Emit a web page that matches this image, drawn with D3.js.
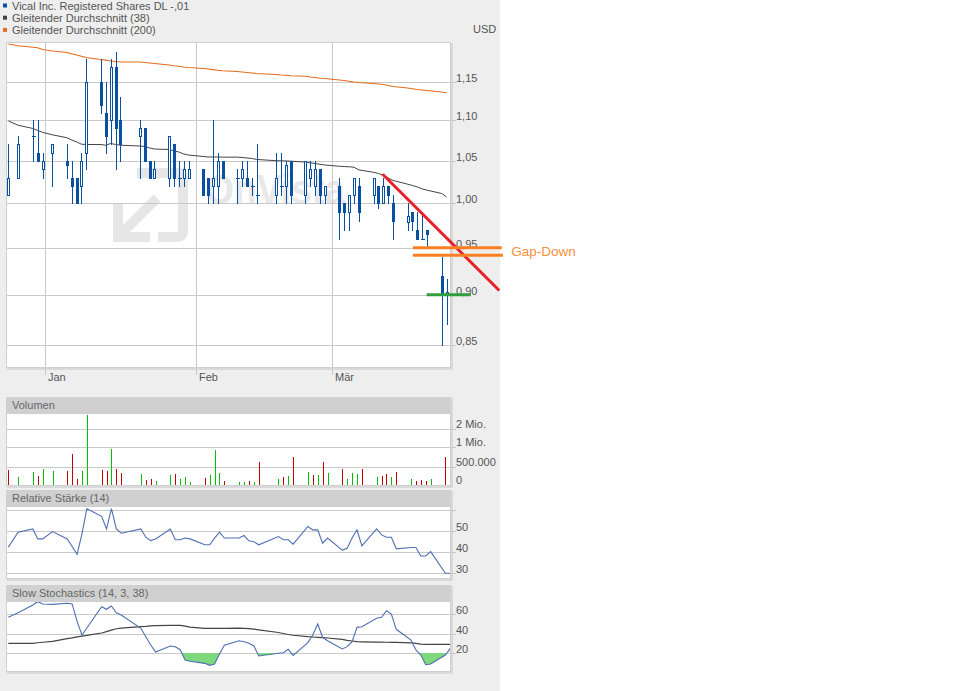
<!DOCTYPE html>
<html><head><meta charset="utf-8">
<script src="https://cdn.jsdelivr.net/npm/d3@7"></script>
<style>
body{margin:0;background:#fff;}
svg{display:block;}
text{font-family:"Liberation Sans",Arial,sans-serif;}
</style>
</head><body>
<svg id="c" width="960" height="691"></svg>
<script>
// ---------------- DATA ----------------
const dates = ["2014-12-24","2014-12-26","2014-12-29","2014-12-30","2014-12-31",
"2015-01-02","2015-01-05","2015-01-06","2015-01-07","2015-01-08","2015-01-09","2015-01-12","2015-01-13","2015-01-14","2015-01-15","2015-01-16","2015-01-20","2015-01-21","2015-01-22","2015-01-23","2015-01-26","2015-01-27","2015-01-28","2015-01-29","2015-01-30",
"2015-02-02","2015-02-03","2015-02-04","2015-02-05","2015-02-06","2015-02-09","2015-02-10","2015-02-11","2015-02-12","2015-02-13","2015-02-17","2015-02-18","2015-02-19","2015-02-20","2015-02-23","2015-02-24","2015-02-25","2015-02-26","2015-02-27",
"2015-03-02","2015-03-03","2015-03-04","2015-03-05","2015-03-06","2015-03-09","2015-03-10","2015-03-11","2015-03-12","2015-03-13","2015-03-16","2015-03-17","2015-03-18","2015-03-19","2015-03-20","2015-03-23","2015-03-24"];

const open = [1.01,1.03,1.08,1.06,1.04,
1.06,1.05,1.03,1.03,1.02,1.06,1.15,1.11,1.10,1.17,1.10,1.08,1.09,1.05,1.03,1.03,1.07,1.03,1.03,1.03,
1.04,1.03,1.02,1.02,1.05,1.03,1.03,1.03,1.02,1.01,1.01,1.02,1.02,1.05,1.01,1.03,1.02,1.04,1.01,
1.02,1.00,0.99,1.01,1.02,1.01,1.02,1.00,1.02,1.00,0.979,0.99,0.97,0.96,0.97,0.92,0.90];
const high = [1.07,1.08,1.10,1.10,1.06,
1.07,1.07,1.05,1.03,1.06,1.18,1.18,1.15,1.18,1.19,1.13,1.10,1.09,1.05,1.05,1.08,1.07,1.05,1.05,1.05,
1.04,1.03,1.10,1.06,1.05,1.04,1.05,1.05,1.03,1.07,1.06,1.06,1.05,1.05,1.05,1.05,1.05,1.04,1.02,
1.03,1.00,1.01,1.03,1.03,1.03,1.02,1.03,1.02,1.01,1.00,0.99,0.99,0.99,0.97,0.94,0.917];
const low = [1.01,1.03,1.05,1.05,1.03,
1.02,1.03,1.00,1.00,1.00,1.04,1.11,1.06,1.07,1.04,1.05,1.03,1.05,1.03,1.03,1.02,1.02,1.02,1.02,1.03,
1.01,1.00,1.00,1.00,1.03,1.00,1.02,1.02,1.01,1.00,1.00,1.01,1.00,1.00,1.00,1.02,1.01,1.00,1.00,
0.96,0.97,0.97,1.00,0.98,1.00,0.995,1.00,1.00,0.96,0.97,0.97,0.96,0.96,0.951,0.85,0.87];
const close = [1.03,1.07,1.08,1.05,1.05,
1.07,1.045,1.02,1.00,1.05,1.15,1.12,1.08,1.17,1.09,1.07,1.09,1.05,1.03,1.04,1.08,1.03,1.03,1.04,1.04,
1.01,1.01,1.03,1.05,1.03,1.03,1.04,1.02,1.02,1.01,1.03,1.02,1.045,1.01,1.05,1.04,1.04,1.01,1.02,
0.99,0.99,1.01,1.03,0.99,1.03,1.00,1.02,1.01,0.98,0.986,0.98,0.96,0.96,0.965,0.90,0.903];

const ma38 = [1.0993,1.0939,1.0899,1.0874,1.0850,
1.0820,1.0783,1.0755,1.0731,1.0703,1.0700,1.0699,1.0690,1.0712,1.0700,1.0691,1.0681,1.0675,1.0657,1.0644,1.0638,1.0622,1.0608,1.0583,1.0571,
1.0553,1.0547,1.0547,1.0547,1.0545,1.0545,1.0541,1.0535,1.0529,1.0517,1.0502,1.0501,1.0499,1.0496,1.0486,1.0477,1.0468,1.0459,1.0450,
1.0435,1.0431,1.0429,1.0423,1.0391,1.0363,1.0349,1.0327,1.0295,1.0266,1.0222,1.0207,1.0189,1.0166,1.0152,1.0113,1.0073];
const ma200 = [1.2011,1.1987,1.1966,1.1959,1.1936,
1.1915,1.1895,1.1877,1.1860,1.1844,1.1826,1.1799,1.1790,1.1779,1.1772,1.1765,1.1765,1.1758,1.1752,1.1745,1.1725,1.1715,1.1707,1.1698,1.1691,
1.1678,1.1671,1.1662,1.1653,1.1647,1.1637,1.1631,1.1624,1.1617,1.1611,1.1597,1.1591,1.1587,1.1581,1.1573,1.1564,1.1557,1.1548,1.1543,
1.1524,1.1518,1.1507,1.1498,1.1491,1.1478,1.1471,1.1465,1.1451,1.1438,1.1419,1.1409,1.1399,1.1392,1.1386,1.1366,1.1357];

const volume = [413e3,229e3,360e3,255e3,440e3,
387e3,387e3,827e3,176e3,387e3,3590e3,413e3,387e3,956e3,440e3,334e3,308e3,150e3,176e3,124e3,282e3,308e3,176e3,229e3,97e3,
202e3,282e3,930e3,334e3,124e3,97e3,105e3,124e3,97e3,629e3,184e3,229e3,263e3,750e3,360e3,282e3,282e3,618e3,334e3,
440e3,176e3,334e3,308e3,440e3,229e3,255e3,308e3,229e3,360e3,176e3,124e3,150e3,124e3,176e3,750e3,282e3];
const volDir = ("duudu"+"uddduudduddudduuduuu"+"duuuduududududududu"+"duuududdududddudu").split("");

const rsi = [42.4,49.5,51,46.3,46.3,
49.8,46.3,42.7,39.0,48.7,60.6,57,51,60.6,51,49,51,47.1,45.5,46.3,51,45.9,45.9,46.7,46.3,
43.5,43.5,46.7,49.5,46.7,46.7,47.9,45.4,45.0,43.5,47.4,45.9,45.9,43.8,52.2,50.6,50.6,44.3,46.7,
41.0,41.9,46.7,50.6,43,51.1,48.2,47.1,47.1,41.6,42.2,42.2,38.2,38.2,40.3,30,30];

const stochK = [56.6,61.3,69.2,72.6,70.3,
69.9,71,70.3,52.5,38.5,45.6,67.5,64.8,68.2,61.3,59,45.3,36.7,28.2,21,27.2,26.5,23.4,12.8,11.5,
9.4,7.3,8.7,19,27.9,32.6,31.6,29.9,27.2,16.9,19.7,20.3,23.8,17.6,30.6,38.5,49.7,36.1,32.6,
24.1,26.5,31.6,46.3,47,55.6,56.6,63.4,60,44.3,33.3,23.1,17.9,8.0,8.7,17.9,24.8];
const stochD = [29.9,29.9,29.9,30.5,31,
32,34.7,35.5,36.5,37.4,38,40.5,42,43.5,44.9,45.5,47,47.3,47.8,48.1,48.4,48.4,48.4,47.5,46.6,
45.3,45.3,45.3,45.3,45.3,45.5,45.3,45,44.5,43.8,41,40,39,38.2,36.7,36.4,36.1,35.8,35.4,
34,33,32.3,31.6,31.5,31.2,31.1,31,30.9,30.8,30.3,29.8,29.1,28.9,28.9,28.9,28.9];

const priceTicks = [0.85,0.90,0.95,1.00,1.05,1.10,1.15];
const volTicks = [0,5e5,1e6,2e6];
const volTickLabels = ["0","500.000","1 Mio.","2 Mio."];
const rsiGrid = [30,40,50,60];
const rsiLabels = [30,40,50];
const stochGrid = [20,40,60];
const monthTicks = ["2015-01-01","2015-02-01","2015-03-01"];
const monthLabels = ["Jan","Feb","Mär"];
const legendLabels = ["Vical Inc. Registered Shares DL -,01","Gleitender Durchschnitt (38)","Gleitender Durchschnitt (200)"];
const legendColors = ["#0a50a0","#444444","#e46c1c"];
const currency = "USD";
const panelTitles = ["Volumen","Relative Stärke (14)","Slow Stochastics (14, 3, 38)"];

// annotations drawn by the user on the chart (date, price)
const trendLine = [["2015-03-11 09:00",1.034],["2015-04-04 08:00",0.9045]];
const gapLines = [[["2015-03-17 14:00",0.95],["2015-04-04 20:00",0.95]],
                  [["2015-03-17 14:00",0.942],["2015-04-05 02:00",0.942]]];
const gapLabel = "Gap-Down";
const supportLine = [["2015-03-20 10:00",0.90],["2015-03-29 12:00",0.90]];

// ---------------- DRAW ----------------
const parseDay = d3.timeParse("%Y-%m-%d");
const parseTime = d3.timeParse("%Y-%m-%d %H:%M");
const days = dates.map(s => d3.timeHour.offset(parseDay(s), 12));
const px = v => Math.round(v) + 0.5;

const svg = d3.select("#c");
svg.append("rect").attr("width",500).attr("height",691).attr("fill","#eeeeee");

const L = 6, R = 451;
const gridC = "#c9c9c9", txtC = "#555";
const blue = "#0a50a0";

function panelBox(top, bottom, title){
  svg.append("rect").attr("x",L+1).attr("y",top+1).attr("width",R-L+1).attr("height",bottom-top+1).attr("fill","#d9d9d9");
  svg.append("rect").attr("x",L).attr("y",top).attr("width",R-L).attr("height",bottom-top).attr("fill","#fff");
  if(title){
    svg.append("rect").attr("x",L).attr("y",top).attr("width",R-L).attr("height",16).attr("fill","#d0d0d0");
    svg.append("text").attr("x",12).attr("y",top+12).attr("font-size",11).attr("fill","#666").text(title);
  }
}
function border(top,bottom){
  svg.append("rect").attr("x",L+0.5).attr("y",top+0.5).attr("width",R-L-1).attr("height",bottom-top-1)
    .attr("fill","none").attr("stroke","#cfcfcf").attr("shape-rendering","crispEdges");
}

// legend
legendLabels.forEach((t,i)=>{
  svg.append("rect").attr("x",3).attr("y",3.5+i*12.2).attr("width",4).attr("height",4).attr("fill",legendColors[i]);
  svg.append("text").attr("x",12).attr("y",10+i*12.1).attr("font-size",11).attr("fill",txtC).text(t);
});
svg.append("text").attr("x",473).attr("y",33).attr("font-size",11).attr("fill",txtC).text(currency);

// main panel
const T = 42, B = 368;
panelBox(T,B,null);
const x = d3.scaleTime().domain([parseTime("2014-12-24 00:00"), parseTime("2015-03-25 10:00")]).range([L,R]);
const y = d3.scaleLog().domain([0.85,1.15]).range([344.5,81.8]);

// watermark
const wm = svg.append("g").attr("fill","none").attr("stroke","#e6e6e6").attr("stroke-width",10);
wm.append("path").attr("d","M137 173 H177 Q183 173 183 179 V231 Q183 237 177 237 H158");
wm.append("path").attr("d","M118 204 V237 H150");
wm.append("path").attr("d","M123 232 L157 198");
svg.append("text").attr("x",205).attr("y",204).attr("font-size",42).attr("font-weight","bold")
  .attr("fill","#e8e8e8").attr("textLength",140).attr("lengthAdjust","spacingAndGlyphs").text("OnVista");

// grid
priceTicks.forEach(t=>{
  const gy = px(y(t));
  svg.append("line").attr("x1",L).attr("x2",R+5).attr("y1",gy).attr("y2",gy).attr("stroke",gridC).attr("shape-rendering","crispEdges");
  svg.append("text").attr("x",456).attr("y",gy-0.5).attr("font-size",11).attr("fill",txtC).text(d3.format(".2f")(t).replace(".",","));
});
monthTicks.forEach((m,i)=>{
  const gx = px(x(parseDay(m)));
  svg.append("line").attr("x1",gx).attr("x2",gx).attr("y1",T).attr("y2",B+7).attr("stroke",gridC).attr("shape-rendering","crispEdges");
  svg.append("text").attr("x",gx+2.5).attr("y",381).attr("font-size",11).attr("fill",txtC).text(monthLabels[i]);
});
border(T,B);

// moving averages
const maLine = arr => d3.line().x((d,i)=>x(days[i])).y(d=>y(d))(arr);
svg.append("path").attr("d",maLine(ma200)).attr("fill","none").attr("stroke","#e46c1c").attr("stroke-width",1.1);
svg.append("path").attr("d",maLine(ma38)).attr("fill","none").attr("stroke","#444").attr("stroke-width",1);

// candles
const cg = svg.append("g").attr("shape-rendering","crispEdges");
days.forEach((d,i)=>{
  const cx = px(x(d));
  cg.append("line").attr("x1",cx).attr("x2",cx).attr("y1",Math.round(y(high[i]))).attr("y2",Math.round(y(low[i]))+1).attr("stroke",blue);
  const o = open[i], c = close[i];
  if (c > o){
    const yt = px(y(c)), yb = px(y(o));
    cg.append("rect").attr("x",cx-1).attr("y",yt).attr("width",2).attr("height",Math.max(1,yb-yt)).attr("fill","#fff").attr("stroke",blue);
  } else if (c < o){
    const yt = Math.round(y(o)), yb = Math.round(y(c));
    cg.append("rect").attr("x",cx-1.5).attr("y",yt).attr("width",3).attr("height",Math.max(1,yb-yt+1)).attr("fill",blue);
  } else {
    const yy = px(y(o));
    cg.append("line").attr("x1",cx-2).attr("x2",cx+2).attr("y1",yy).attr("y2",yy).attr("stroke",blue);
  }
});

// annotations
const pt = p => [x(parseTime(p[0])), y(p[1])];
svg.append("line").attr("x1",pt(trendLine[0])[0]).attr("y1",pt(trendLine[0])[1]).attr("x2",pt(trendLine[1])[0]).attr("y2",pt(trendLine[1])[1])
  .attr("stroke","#e8202a").attr("stroke-width",3);
gapLines.forEach(g=>{
  svg.append("line").attr("x1",pt(g[0])[0]).attr("y1",pt(g[0])[1]).attr("x2",pt(g[1])[0]).attr("y2",pt(g[1])[1])
    .attr("stroke","#fb7f22").attr("stroke-width",3);
});
svg.append("line").attr("x1",pt(supportLine[0])[0]).attr("y1",pt(supportLine[0])[1]).attr("x2",pt(supportLine[1])[0]).attr("y2",pt(supportLine[1])[1])
  .attr("stroke","#2e9e3e").attr("stroke-width",3);
const gl0 = pt(gapLines[0][1]), gl1 = pt(gapLines[1][1]);
svg.append("text").attr("x",gl0[0]+9.5).attr("y",(gl0[1]+gl1[1])/2+4.5).attr("font-size",13.5).attr("fill","#f7903a").text(gapLabel);

// lower panels x
const x2 = d3.scaleTime().domain([days[0], days[days.length-1]]).range([8.3,450.3]);

// volume
const vT = 397, vB = 486;
panelBox(vT, vB, panelTitles[0]);
const yv = d3.scaleLinear().domain([0,5e5,1e6,2e6,4e6]).range([486,466.7,447.3,429.3,411.3]);
volTicks.forEach((t,i)=>{
  const gy = px(yv(t));
  if (t>0) svg.append("line").attr("x1",L).attr("x2",R+5).attr("y1",gy).attr("y2",gy).attr("stroke",gridC).attr("shape-rendering","crispEdges");
  svg.append("text").attr("x",456).attr("y",(t>0?gy:485.7)-2).attr("font-size",11).attr("fill",txtC).text(volTickLabels[i]);
});
const vg = svg.append("g").attr("shape-rendering","crispEdges");
volume.forEach((v,i)=>{
  const bx = Math.round(x2(days[i]));
  const top = Math.round(yv(v));
  vg.append("rect").attr("x",bx).attr("y",top).attr("width",1).attr("height",Math.max(1,486-top))
    .attr("fill", volDir[i]==="u" ? "#00c000" : "#c40000");
});
border(vT+16, vB);

// RSI
const rT = 490, rB = 579;
panelBox(rT, rB, panelTitles[1]);
const yr = d3.scaleLinear().domain([30,60]).range([573.3,510]);
rsiGrid.forEach(t=>{
  const gy = px(yr(t));
  svg.append("line").attr("x1",L).attr("x2",R+5).attr("y1",gy).attr("y2",gy).attr("stroke",gridC).attr("shape-rendering","crispEdges");
  if (rsiLabels.includes(t)) svg.append("text").attr("x",456).attr("y",gy-1).attr("font-size",11).attr("fill",txtC).text(t);
});
svg.append("path").attr("d",d3.line().x((d,i)=>x2(days[i])).y(d=>yr(d))(rsi))
  .attr("fill","none").attr("stroke","#4f6fb3").attr("stroke-width",1.1);
border(rT+16, rB);

// Stochastics
const sT = 585, sB = 672;
panelBox(sT, sB, panelTitles[2]);
const ys = d3.scaleLinear().domain([20,60]).range([653,614]);
stochGrid.forEach(t=>{
  const gy = px(ys(t));
  svg.append("line").attr("x1",L).attr("x2",R+5).attr("y1",gy).attr("y2",gy).attr("stroke",gridC).attr("shape-rendering","crispEdges");
  svg.append("text").attr("x",456).attr("y",gy-1).attr("font-size",11).attr("fill",txtC).text(t);
});
svg.append("clipPath").attr("id","below20").append("rect")
  .attr("x",L).attr("y",ys(20)).attr("width",R-L).attr("height",sB-ys(20));
svg.append("path").attr("clip-path","url(#below20)")
  .attr("d",d3.area().x((d,i)=>x2(days[i])).y0(ys(20)).y1(d=>ys(d))(stochK))
  .attr("fill","#7dd87d");
svg.append("path").attr("d",d3.line().x((d,i)=>x2(days[i])).y(d=>ys(d))(stochD))
  .attr("fill","none").attr("stroke","#444").attr("stroke-width",1.2);
svg.append("path").attr("d",d3.line().x((d,i)=>x2(days[i])).y(d=>ys(d))(stochK))
  .attr("fill","none").attr("stroke","#4f6fb3").attr("stroke-width",1.1);
border(sT+16, sB);
</script>
</body></html>
